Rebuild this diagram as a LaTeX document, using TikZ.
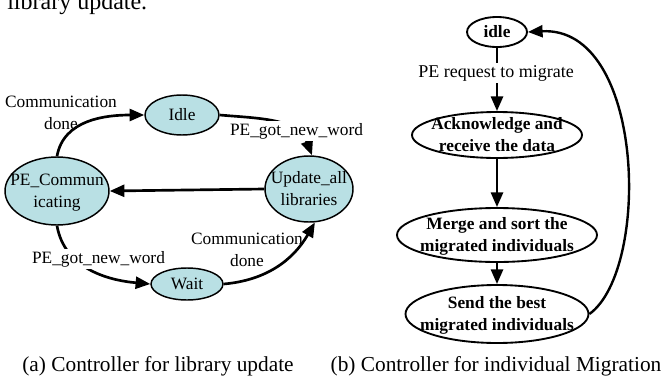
\documentclass[tikz,border=0pt]{standalone}
\usepackage{fontspec}
\setmainfont{Liberation Serif}
\usetikzlibrary{shapes.geometric,arrows.meta}
\definecolor{stfill}{RGB}{185,224,228}
\newcommand\nt[1]{\makebox[0pt]{\raisebox{-0.3em}[0pt][0pt]{\begin{tabular}{@{}c@{}}#1\end{tabular}}}}
\begin{document}
\begin{tikzpicture}[x=0.75pt,y=0.75pt,
  lst/.style 2 args={ellipse,draw=black,line width=1.1pt,fill=stfill,inner sep=0pt,minimum width=0.75pt*#1,minimum height=0.75pt*#2,font=\fontsize{13}{16.5}\selectfont},
  rst/.style 2 args={ellipse,draw=black,line width=1.4pt,fill=white,inner sep=0pt,minimum width=0.75pt*#1,minimum height=0.75pt*#2,font=\fontsize{13}{16.5}\selectfont\bfseries},
  lbl/.style={font=\fontsize{13}{16.5}\selectfont,align=center,inner xsep=2pt,inner ysep=1.5pt},
  ledge/.style={line width=2pt,-{Triangle[length=11pt,width=9pt]}},
  redge/.style={line width=2pt,-{Triangle[length=11pt,width=9pt]}},
  captxt/.style={font=\fontsize{16}{19}\selectfont,anchor=base,inner sep=0pt},
]
\useasboundingbox (0,0) rectangle (661,-379);
\node[font=\fontsize{18}{21}\selectfont,anchor=base west,inner sep=0pt] (top) at (7,-9.5) {library update.};
% left diagram
\node[lst={74}{40}] (idle) at (182,-115) {\nt{Idle}};
\node[lst={104}{68}] (pe) at (57,-191) {\nt{PE\_Commun\\icating}};
\node[lst={88}{66}] (upd) at (309,-189) {\nt{Update\_all\\libraries}};
\node[lst={72}{32}] (wait) at (187,-284) {\nt{Wait}};
\draw[ledge] (pe.north) to[out=80,in=180] (idle.west);
\draw[ledge] (idle.east) to[out=-5,in=110] (upd.85);
\draw[ledge] (upd.west) -- (pe.east);
\draw[ledge] (pe.south) to[out=-80,in=175] (wait.west);
\draw[ledge] (wait.east) to[out=5,in=-120] (upd.-80);
\node[lbl] (l1) at (61,-112.5) {Communication\\done};
\node[lbl,fill=white] (l2) at (296.5,-131) {PE\_got\_new\_word};
\node[lbl,fill=white] (l3) at (98.5,-259) {PE\_got\_new\_word};
\node[lbl] (l4) at (247,-250) {Communication\\done};
% right diagram
\node[rst={60}{30}] (idle2) at (497,-32) {\nt{idle}};
\node[rst={170}{46}] (ack) at (497,-135) {\nt{Acknowledge and\\receive the data}};
\node[rst={200}{54}] (merge) at (497,-235) {\nt{Merge and sort the\\migrated individuals}};
\node[rst={183}{58}] (send) at (497,-314) {\nt{Send the best\\migrated individuals}};
\draw[redge] (idle2.south) -- (ack.north);
\draw[redge] (ack.south) -- (merge.north);
\draw[redge] (merge.south) -- (send.north);
\draw[redge,line width=1.8pt] (send.east) to[out=36,in=3,out distance=57pt,in distance=88pt] (idle2.east);
\node[lbl,font=\fontsize{13.5}{16}\selectfont,fill=white] (l5) at (496,-73) {PE request to migrate};
% captions
\node[captxt] (capa) at (158,-371) {(a) Controller for library update};
\node[captxt] (capb) at (496,-371) {(b) Controller for individual Migration};
\end{tikzpicture}
\end{document}
